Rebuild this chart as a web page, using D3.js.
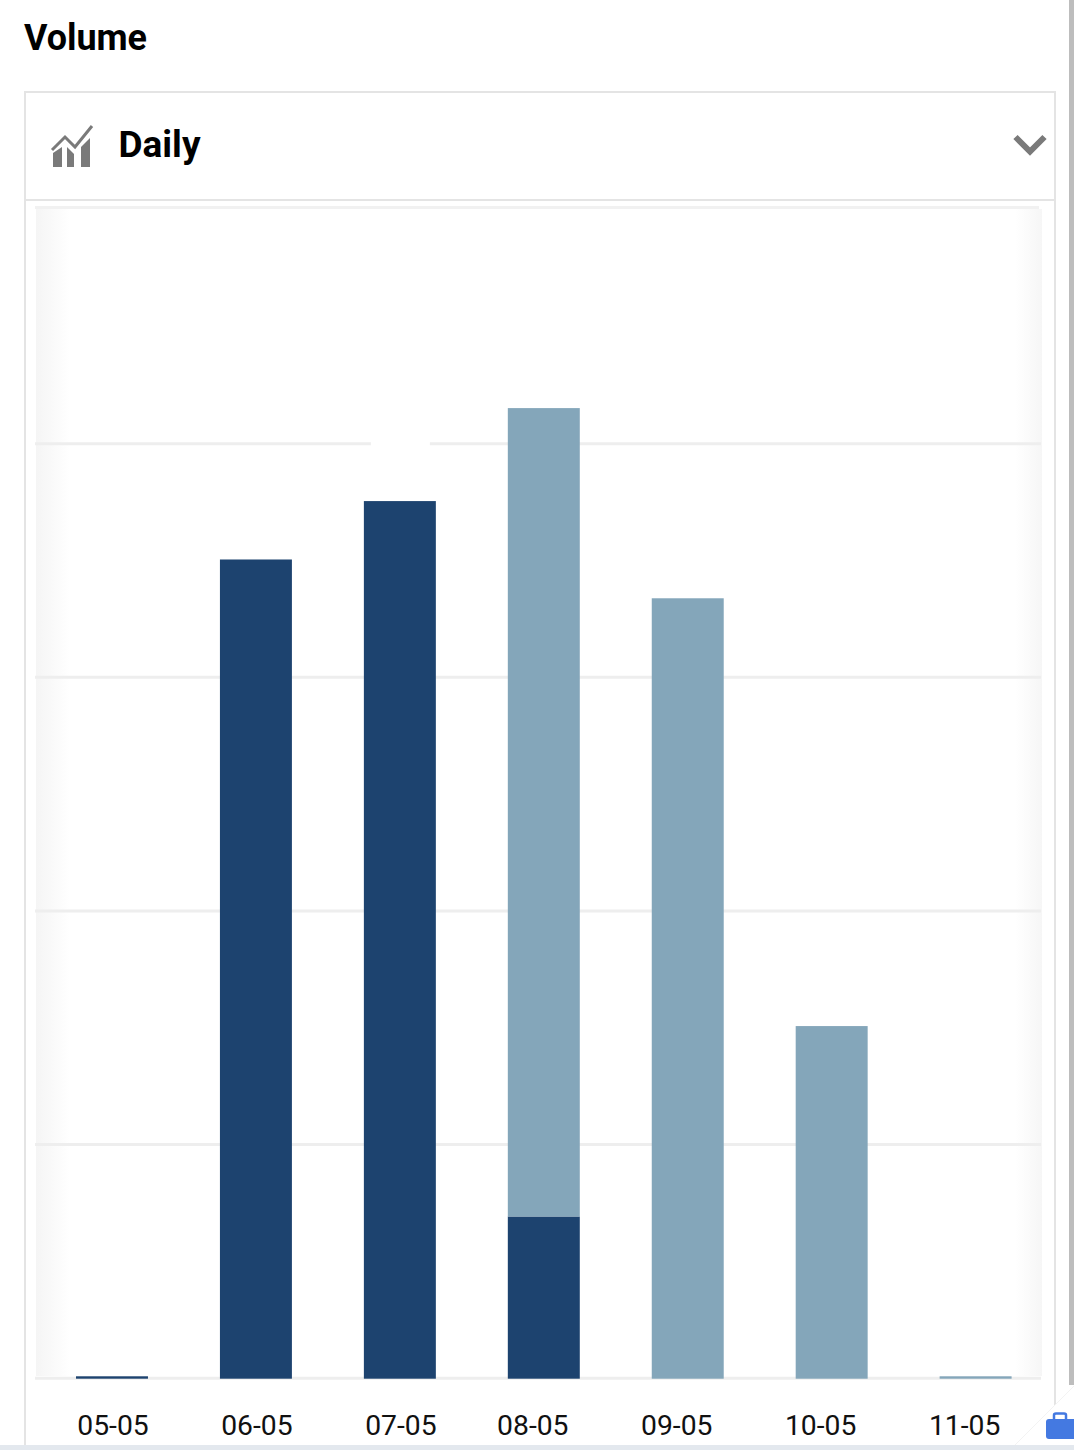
<!DOCTYPE html>
<html>
<head>
<meta charset="utf-8">
<script src="https://cdn.jsdelivr.net/npm/d3@7"></script>
<style>
    html, body { margin: 0; padding: 0; background: #fff; overflow: hidden; }
    svg { display: block; font-family: Roboto, sans-serif; }
</style>
</head>
<body>
<svg id="chart" width="1074" height="1450"></svg>
<script>
    var DAYS = ['05-05', '06-05', '07-05', '08-05', '09-05', '10-05', '11-05'];
    var dark = [0.006, 3.502, 3.752, 0.69, 0, 0, 0];
    var light = [0, 0, 0, 3.46, 3.336, 1.505, 0.006];
    var gridTicks = [0, 1, 2, 3, 4];

    var DARK_COLOR = '#1d436f';
    var LIGHT_COLOR = '#84a6ba';
    var LINE_COLOR = '#e4e4e4';
    var GRID_COLOR = '#eeeeee';
    var ICON_COLOR = '#7a7a7a';

    var svg = d3.select('#chart');

    var x = d3.scaleBand().domain(DAYS).range([76, 1011.6]).paddingInner(0.5).paddingOuter(0);
    var y = d3.scaleLinear().domain([0, 5]).range([1377.7, 209.5]);

    // page furniture
    var defs = svg.append('defs');
    function fade(id, from, to) {
        var g = defs.append('linearGradient').attr('id', id);
        g.append('stop').attr('offset', 0).attr('stop-color', from);
        g.append('stop').attr('offset', 1).attr('stop-color', to);
    }
    fade('fadeLeft', '#f5f5f5', '#ffffff');
    fade('fadeRight', '#ffffff', '#f6f6f6');

    svg.append('rect').attr('x', 1069).attr('y', 0).attr('width', 5).attr('height', 1385).attr('fill', '#bdbdbd');
    svg.append('rect').attr('x', 0).attr('y', 1445).attr('width', 1074).attr('height', 5).attr('fill', '#e3e8ee');

    // card borders
    var borders = [
        [24, 92, 1056, 92],
        [25, 92, 25, 1445],
        [1055, 92, 1055, 1405],
        [25, 200, 1055, 200]
    ];
    svg.selectAll('.border').data(borders).enter().append('line')
        .attr('class', 'border')
        .attr('x1', function (d) { return d[0]; })
        .attr('y1', function (d) { return d[1]; })
        .attr('x2', function (d) { return d[2]; })
        .attr('y2', function (d) { return d[3]; })
        .attr('stroke', LINE_COLOR)
        .attr('stroke-width', 2);

    svg.append('path').attr('d', 'M1015,1445L1074,1386').attr('stroke', '#f3f3f3').attr('stroke-width', 1).attr('fill', 'none');

    svg.append('text').attr('x', 24).attr('y', 50).attr('font-size', 36).attr('font-weight', 700)
        .attr('textLength', 123).attr('lengthAdjust', 'spacingAndGlyphs').attr('fill', '#000').text('Volume');
    svg.append('text').attr('x', 118.5).attr('y', 157).attr('font-size', 36).attr('font-weight', 700)
        .attr('textLength', 82).attr('lengthAdjust', 'spacingAndGlyphs').attr('fill', '#000').text('Daily');

    // chart icon
    var icon = svg.append('g').attr('fill', ICON_COLOR);
    icon.append('path').attr('d', 'M53,167V153L62,147V167Z');
    icon.append('path').attr('d', 'M67,167V147L74,154V167Z');
    icon.append('path').attr('d', 'M81,167V147L90,138V167Z');
    svg.append('path').attr('d', 'M52,150L65,137L75,147L92,126')
        .attr('fill', 'none').attr('stroke', ICON_COLOR).attr('stroke-width', 3);

    // chevron
    svg.append('path').attr('d', 'M1015.5,137L1030,151.5L1044.5,137')
        .attr('fill', 'none').attr('stroke', ICON_COLOR).attr('stroke-width', 6);

    // plot background
    svg.append('rect').attr('x', 35).attr('y', 206).attr('width', 1004).attr('height', 3).attr('fill', '#f1f1f1');
    svg.append('rect').attr('x', 36).attr('y', 209).attr('width', 34).attr('height', 1167).attr('fill', 'url(#fadeLeft)');
    svg.append('rect').attr('x', 1015).attr('y', 209).attr('width', 27).attr('height', 1167).attr('fill', 'url(#fadeRight)');

    // gridlines
    var grid = svg.append('g')
        .attr('transform', 'translate(35,0)')
        .call(d3.axisLeft(y).tickValues(gridTicks).tickSize(-1006).tickFormat(''));
    grid.select('.domain').remove();
    grid.selectAll('line').attr('stroke', GRID_COLOR).attr('stroke-width', 3);

    // gap in the top gridline
    svg.append('rect')
        .attr('x', x('07-05') + 7).attr('y', y(4) - 3)
        .attr('width', 59).attr('height', 6)
        .attr('fill', '#fff');

    // stacked bars
    var rows = DAYS.map(function (d, i) {
        return { day: d, dark: dark[i], light: light[i] };
    });
    var series = d3.stack().keys(['dark', 'light'])(rows);
    var COLORS = [DARK_COLOR, LIGHT_COLOR];

    series.forEach(function (s, k) {
        svg.selectAll('.bar' + k)
            .data(s.filter(function (d) { return d[1] > d[0]; }))
            .enter().append('rect')
            .attr('class', 'bar' + k)
            .attr('x', function (d) { return x(d.data.day); })
            .attr('y', function (d) { return y(d[1]); })
            .attr('width', x.bandwidth())
            .attr('height', function (d) {
                // the bottom segment reaches the lower edge of the baseline
                return y(d[0]) - y(d[1]) + (d[0] === 0 ? 1 : 0);
            })
            .attr('fill', COLORS[k]);
    });

    // tick labels, the reference shifts the last four to the left of their bars
    var axis = svg.append('g')
        .attr('transform', 'translate(0,1378)')
        .call(d3.axisBottom(x).tickSize(0).tickPadding(37));
    axis.select('.domain').remove();
    axis.selectAll('text')
        .attr('font-family', 'Roboto, sans-serif')
        .attr('font-size', 28.3)
        .attr('fill', '#111')
        .attr('dx', function (d, i) { return i < 3 ? 1 : -11; });

    // briefcase
    var bag = svg.append('g');
    bag.append('rect').attr('x', 1046).attr('y', 1419).attr('width', 30).attr('height', 20).attr('rx', 3).attr('fill', '#4479e1');
    bag.append('path').attr('d', 'M1054,1419V1415Q1054,1413.5 1056,1413.5H1064Q1066,1413.5 1066,1415V1419')
        .attr('fill', 'none').attr('stroke', '#4479e1').attr('stroke-width', 2.5);
</script>
</body>
</html>
